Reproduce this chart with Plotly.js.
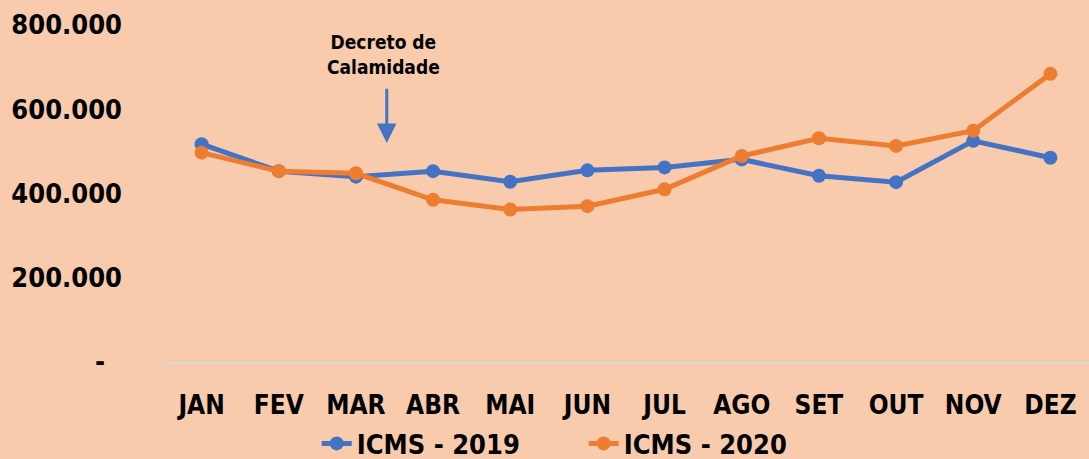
<!DOCTYPE html>
<html>
<head>
<meta charset="utf-8">
<script src="https://cdn.plot.ly/plotly-3.0.1.min.js"></script>
<style>html,body{margin:0;padding:0;background:#F8CBAD;}#chart{width:1089px;height:459px;}</style>
</head>
<body>
<div id="chart"></div>
<script>
const months = ["JAN","FEV","MAR","ABR","MAI","JUN","JUL","AGO","SET","OUT","NOV","DEZ"];
const icms2019 = [517000, 453000, 440000, 453000, 428000, 455000, 462000, 481000, 442000, 427000, 525000, 485000];
const icms2020 = [497000, 453000, 448000, 385000, 362000, 370000, 410000, 489000, 531000, 513000, 549000, 684000];
const yTickVals = [0, 200000, 400000, 600000, 800000];
const yTickText = ["-\u00a0\u00a0", "200.000", "400.000", "600.000", "800.000"];
const seriesNames = ["ICMS - 2019", "ICMS - 2020"];
const noteText = "Decreto de<br>Calamidade";

const FONT = "'DejaVu Sans Condensed', 'DejaVu Sans', sans-serif";
const BLUE = "#4472C4", ORANGE = "#ED7D31";

const traces = [
  {x: months, y: icms2019, name: seriesNames[0], type: "scatter", mode: "lines+markers",
   line: {color: BLUE, width: 5}, marker: {color: BLUE, size: 14}},
  {x: months, y: icms2020, name: seriesNames[1], type: "scatter", mode: "lines+markers",
   line: {color: ORANGE, width: 5}, marker: {color: ORANGE, size: 14}}
];

const layout = {
  width: 1089, height: 459,
  paper_bgcolor: "#F8CBAD", plot_bgcolor: "#F8CBAD",
  margin: {l: 163, r: 0, t: 25, b: 97},
  font: {family: FONT, color: "#000", size: 26, weight: "bold"},
  showlegend: true,
  legend: {orientation: "h", xref: "container", yref: "container", x: 0.536, xanchor: "center",
           y: 0.033, yanchor: "middle", font: {family: FONT, size: 27, weight: "bold", color: "#000"},
           entrywidth: 222, entrywidthmode: "pixels", traceorder: "normal", bgcolor: "rgba(0,0,0,0)"},
  xaxis: {type: "category", range: [-0.5, 11.5], showgrid: false, zeroline: false,
          showline: true, linecolor: "#D9D9D9", linewidth: 2, ticks: "",
          ticklabelstandoff: 19, tickfont: {family: FONT, size: 26, weight: "bold"}, fixedrange: true},
  yaxis: {range: [0, 800000], showgrid: false, zeroline: false, showline: false, ticks: "",
          tickvals: yTickVals, ticktext: yTickText, ticklabelstandoff: 40,
          tickfont: {family: FONT, size: 27, weight: "bold"}, fixedrange: true},
  annotations: [
    {xref: "x", yref: "y", x: 2.36, y: 730000, text: noteText, showarrow: false,
     font: {family: FONT, size: 19, weight: "bold", color: "#000"}, align: "center",
     xanchor: "center", yanchor: "middle"},
    {xref: "x", yref: "y", axref: "x", ayref: "y", x: 2.4, y: 520000, ax: 2.4, ay: 652000,
     text: "", showarrow: true, arrowhead: 2, arrowsize: 1.3, arrowwidth: 3, arrowcolor: BLUE}
  ]
};

Plotly.newPlot("chart", traces, layout, {displayModeBar: false, staticPlot: true});
</script>
</body>
</html>
